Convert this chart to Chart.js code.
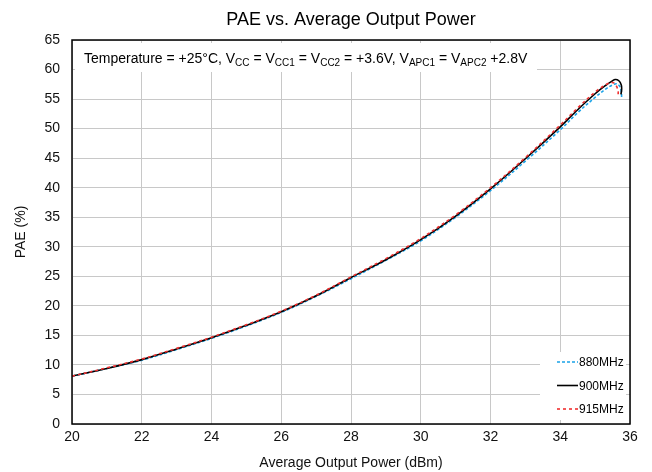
<!DOCTYPE html>
<html>
<head>
<meta charset="utf-8">
<script src="https://cdn.jsdelivr.net/npm/chart.js@4.4.0/dist/chart.umd.min.js"></script>
<style>
  html, body { margin: 0; padding: 0; background: #fff; }
  #wrap { width: 652px; height: 472px; }
</style>
</head>
<body>
<div id="wrap"><canvas id="paeChart" width="652" height="472"></canvas></div>
<script>
// Data
const power880 = [20, 21, 22, 23, 24, 25, 26, 27, 28, 29, 30, 31, 32, 33, 34, 34.5, 35, 35.3, 35.5, 35.62, 35.7, 35.75, 35.76];
const pae880 = [8.1, 9.4, 10.8, 12.6, 14.5, 16.6, 18.9, 21.6, 24.6, 27.7, 31.0, 35.0, 39.5, 44.5, 49.8, 52.7, 55.3, 56.7, 57.4, 57.6, 57.2, 56.3, 55.2];

const power900 = [20, 21, 22, 23, 24, 25, 26, 27, 28, 29, 30, 31, 32, 33, 34, 34.5, 35, 35.3, 35.45, 35.57, 35.68, 35.75, 35.76, 35.74];
const pae900 = [8.1, 9.4, 10.9, 12.7, 14.6, 16.7, 19.0, 21.7, 24.8, 27.8, 31.2, 35.2, 39.8, 44.9, 50.3, 53.2, 55.9, 57.3, 57.9, 58.3, 58.1, 57.4, 56.6, 55.8];

const power915 = [20, 21, 22, 23, 24, 25, 26, 27, 28, 29, 30, 31, 32, 33, 34, 34.5, 35, 35.3, 35.45, 35.55, 35.62, 35.66, 35.66];
const pae915 = [8.1, 9.5, 11.0, 12.8, 14.7, 16.8, 19.1, 21.8, 24.9, 28.0, 31.4, 35.4, 40.0, 45.1, 50.6, 53.5, 56.2, 57.4, 57.8, 57.7, 57.1, 56.3, 55.8];

const xTicks = [20, 22, 24, 26, 28, 30, 32, 34, 36];
const yTicks = [0, 5, 10, 15, 20, 25, 30, 35, 40, 45, 50, 55, 60, 65];

const seriesNames = ["880MHz", "900MHz", "915MHz"];
const seriesColors = ["#1aa3e8", "#000000", "#f03030"];
const seriesDash = [[3, 2], [], [3, 3]];

const FONT = "'Liberation Sans', Arial, sans-serif";

function toPoints(xs, ys) {
  return xs.map((x, i) => ({ x: x, y: ys[i] }));
}

// White boxes, legend, annotation, title and plot frame
const decorPlugin = {
  id: "decor",
  beforeDatasetsDraw(chart) {
    const ctx = chart.ctx;
    const area = chart.chartArea;
    ctx.save();

    // annotation box
    ctx.fillStyle = "#fff";
    ctx.fillRect(area.left + 3, area.top + 3, 462, 29);

    // legend box
    ctx.fillRect(area.right - 90, area.bottom - 72, 86, 68);
    ctx.restore();
  },
  afterDatasetsDraw(chart) {
    const ctx = chart.ctx;
    const area = chart.chartArea;
    ctx.save();

    // plot frame
    ctx.strokeStyle = "#000";
    ctx.lineWidth = 1.5;
    ctx.strokeRect(area.left, area.top, area.right - area.left, area.bottom - area.top);

    // title
    ctx.fillStyle = "#000";
    ctx.font = "18px " + FONT;
    ctx.textAlign = "center";
    ctx.textBaseline = "middle";
    ctx.fillText("PAE vs. Average Output Power", (area.left + area.right) / 2, 20);

    // annotation text with subscripts
    const parts = [
      ["Temperature = +25°C, V", false], ["CC", true], [" = V", false], ["CC1", true],
      [" = V", false], ["CC2", true], [" = +3.6V, V", false], ["APC1", true],
      [" = V", false], ["APC2", true], [" +2.8V", false]
    ];
    let tx = area.left + 12;
    const ty = area.top + 23;
    ctx.textAlign = "left";
    ctx.textBaseline = "alphabetic";
    parts.forEach(([txt, sub]) => {
      ctx.font = (sub ? "10px " : "14px ") + FONT;
      ctx.fillText(txt, tx, sub ? ty + 3 : ty);
      tx += ctx.measureText(txt).width;
    });

    // legend
    ctx.font = "12px " + FONT;
    ctx.textBaseline = "middle";
    seriesNames.forEach((name, i) => {
      const ly = area.bottom - 62 + i * 23.5;
      ctx.beginPath();
      ctx.strokeStyle = seriesColors[i];
      ctx.lineWidth = 1.6;
      ctx.setLineDash(seriesDash[i]);
      ctx.moveTo(area.right - 73, ly);
      ctx.lineTo(area.right - 52, ly);
      ctx.stroke();
      ctx.setLineDash([]);
      ctx.fillStyle = "#000";
      ctx.fillText(name, area.right - 51, ly + 1);
    });
    ctx.restore();
  }
};

document.addEventListener("DOMContentLoaded", () => {
  const canvas = document.getElementById("paeChart");
  const sets = [
    { x: power880, y: pae880, order: 2 },
    { x: power900, y: pae900, order: 1 },
    { x: power915, y: pae915, order: 0 }
  ];

  new Chart(canvas.getContext("2d"), {
    type: "scatter",
    data: {
      datasets: sets.map((s, i) => ({
        label: seriesNames[i],
        data: toPoints(s.x, s.y),
        showLine: true,
        borderColor: seriesColors[i],
        backgroundColor: seriesColors[i],
        borderDash: seriesDash[i],
        borderWidth: 1.6,
        pointRadius: 0,
        tension: 0.35,
        order: s.order
      }))
    },
    options: {
      responsive: false,
      animation: false,
      layout: { padding: { top: 40, right: 22, left: 0, bottom: 0 } },
      plugins: {
        legend: { display: false },
        title: { display: false },
        tooltip: { enabled: false }
      },
      scales: {
        x: {
          type: "linear",
          min: 20,
          max: 36,
          afterBuildTicks: (axis) => { axis.ticks = xTicks.map(v => ({ value: v })); },
          afterFit: (axis) => { axis.height = 48; },
          grid: { color: "#c8c8c8", lineWidth: 1, drawTicks: false },
          border: { display: false },
          ticks: { color: "#111", font: { family: FONT, size: 14 }, padding: 5, maxRotation: 0 },
          title: {
            display: true,
            text: "Average Output Power (dBm)",
            color: "#111",
            font: { family: FONT, size: 14 },
            padding: { top: 1, bottom: 0 }
          }
        },
        y: {
          type: "linear",
          min: 0,
          max: 65,
          afterBuildTicks: (axis) => { axis.ticks = yTicks.map(v => ({ value: v })); },
          afterFit: (axis) => { axis.width = 72; },
          grid: { color: "#c8c8c8", lineWidth: 1, drawTicks: false },
          border: { display: false },
          ticks: { color: "#111", font: { family: FONT, size: 14 }, padding: 12 },
          title: {
            display: true,
            text: "PAE (%)",
            color: "#111",
            font: { family: FONT, size: 14 },
            padding: { top: 13, bottom: 0 }
          }
        }
      }
    },
    plugins: [decorPlugin]
  });
});
</script>
</body>
</html>
